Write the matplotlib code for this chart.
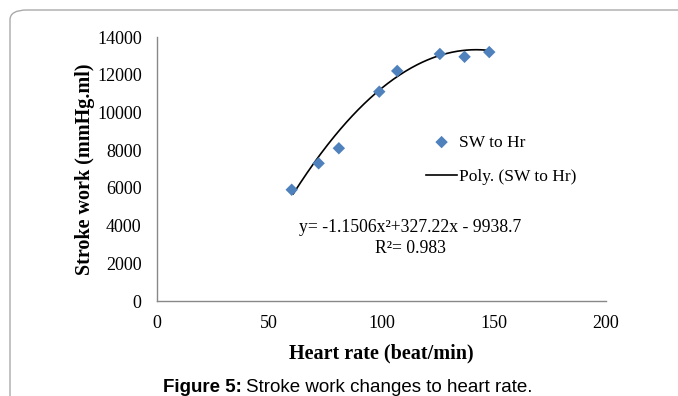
import numpy as np
import matplotlib
matplotlib.use("Agg")
import matplotlib.pyplot as plt
from matplotlib.patches import FancyBboxPatch

# heart rate (beat/min) vs stroke work (mmHg.ml)
heart_rate = [60, 72, 81, 99, 107, 126, 137, 148]
stroke_work = [5900, 7300, 8100, 11100, 12200, 13100, 12950, 13200]

# polynomial trendline coefficients (from the chart)
poly_coef = [-1.1506, 327.22, -9938.7]
r_squared = 0.983

x_ticks = [0, 50, 100, 150, 200]
y_ticks = [0, 2000, 4000, 6000, 8000, 10000, 12000, 14000]

serif = "Liberation Serif"
W, H = 678, 396

fig = plt.figure(figsize=(W / 100, H / 100), dpi=100)

# light grey rounded frame (open to the right/bottom edges)
frame = FancyBboxPatch((10 / W, -0.2), 1.2, 1.2 - 10 / H,
                       boxstyle="round,pad=0,rounding_size=0.025",
                       transform=fig.transFigure, fill=False,
                       edgecolor="#aaaaaa", linewidth=1.0)
fig.patches.append(frame)

ax = fig.add_axes([157 / W, 1 - 301 / H, 449 / W, 264 / H])

ax.scatter(heart_rate, stroke_work, marker="D", s=40, color="#4f81bd",
           edgecolors="none", zorder=3, label="SW to Hr")

xs = np.linspace(min(heart_rate) + 0.7, max(heart_rate), 200)
ax.plot(xs, np.polyval(poly_coef, xs), color="black", lw=1.2,
        label="Poly. (SW to Hr)", zorder=2)

ax.set_xlim(0, 200)
ax.set_ylim(0, 14000)
ax.set_xticks(x_ticks)
ax.set_yticks(y_ticks)
ax.tick_params(length=0, labelsize=13)
ax.tick_params(axis="x", pad=10)
ax.tick_params(axis="y", pad=11)
for lab in ax.get_xticklabels() + ax.get_yticklabels():
    lab.set_fontfamily(serif)

for s in ["top", "right"]:
    ax.spines[s].set_visible(False)
for s in ["left", "bottom"]:
    ax.spines[s].set_color("#888888")
    ax.spines[s].set_linewidth(1.0)

ax.set_xlabel("Heart rate (beat/min)", fontfamily=serif, fontweight="bold",
              fontsize=14.5, labelpad=8)
ax.set_ylabel("Stroke work (mmHg.ml)", fontfamily=serif, fontweight="bold",
              fontsize=14.5, labelpad=1.5)

leg = ax.legend(loc="center left", bbox_to_anchor=(0.599, 0.535), frameon=False,
                prop={"family": serif, "size": 12.5}, handlelength=1.8,
                labelspacing=1.05, handletextpad=0.1, borderpad=0,
                borderaxespad=0)

eq = "y= -1.1506x²+327.22x - 9938.7\nR²= %.3f" % r_squared
ax.text(112.7, 3340, eq, ha="center", va="center", fontfamily=serif,
        fontsize=12.7, linespacing=1.25)

# caption: bold "Figure 5:" then regular text
cap_y = 1 - 387 / H
t1 = fig.text(163 / W, cap_y, "Figure 5:", ha="left", va="center",
              fontfamily="Liberation Sans", fontweight="bold", fontsize=13.5)
fig.canvas.draw()
bb = t1.get_window_extent()
fig.text(bb.x1 / W + 4 / W, cap_y, "Stroke work changes to heart rate.",
         ha="left", va="center", fontfamily="Liberation Sans", fontsize=13.5)

fig.savefig("out.png", dpi=100)
